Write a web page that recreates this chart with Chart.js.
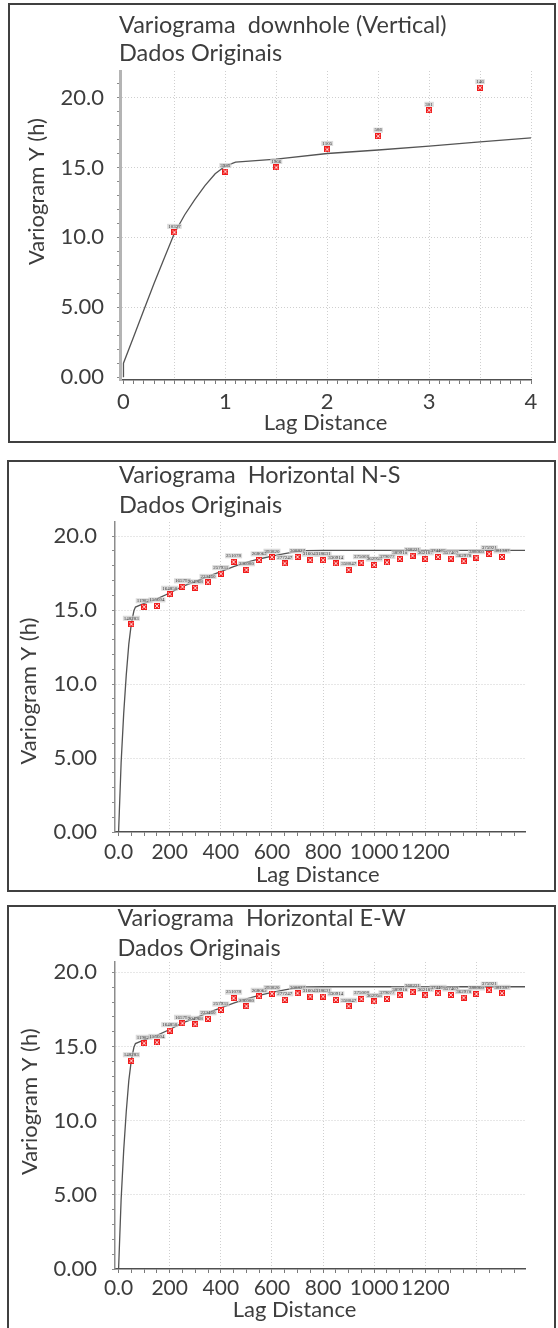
<!DOCTYPE html>
<html>
<head>
<meta charset="utf-8">
<script src="https://cdn.jsdelivr.net/npm/chart.js@4.4.1/dist/chart.umd.min.js"></script>
<style>
  html, body { margin: 0; padding: 0; background: #fff; overflow: hidden; }
  body { width: 558px; height: 1328px; position: relative; }
  .panel { position: absolute; border: 2px solid #404040; }
  .panel canvas { display: block; }
</style>
</head>
<body>
<div class="panel" style="left:8px;top:3px;width:544px;height:436px"><canvas id="vert" width="544" height="436"></canvas></div>
<div class="panel" style="left:7px;top:460px;width:545px;height:428px"><canvas id="ns" width="545" height="428"></canvas></div>
<div class="panel" style="left:7px;top:905px;width:545px;height:426px"><canvas id="ew" width="545" height="426"></canvas></div>
<script>
// ---- Downhole (vertical) experimental variogram ----
const vertLag   = [0.5, 1.0, 1.5, 2.0, 2.5, 3.0, 3.5];
const vertGamma = [10.36, 14.71, 15.00, 16.29, 17.24, 19.09, 20.71];
const vertPairs = ['10327', '3935', '1966', '1105', '586', '301', '146'];
// fitted model
const vertModelLag   = [0, 0, 0.1, 0.2, 0.3, 0.4, 0.5, 0.6, 0.7, 0.8, 0.9, 1.0, 1.1, 1.5, 2.0, 2.5, 3.0, 3.5, 4.0];
const vertModelGamma = [0, 1.0, 2.9, 4.8, 6.7, 8.5, 10.3, 11.6, 12.7, 13.7, 14.55, 15.1, 15.38, 15.6, 16.0, 16.25, 16.52, 16.83, 17.12];

// ---- Horizontal N-S experimental variogram ----
const nsLag   = [50, 100, 150, 200, 250, 300, 350, 400, 450, 500, 550, 600, 650, 700, 750,
                 800, 850, 900, 950, 1000, 1050, 1100, 1150, 1200, 1250, 1300, 1350, 1400, 1450, 1500];
const nsGamma = [14.04, 15.22, 15.28, 16.07, 16.57, 16.50, 16.87, 17.46, 18.26, 17.72, 18.39, 18.57, 18.15, 18.59, 18.37,
                 18.37, 18.15, 17.72, 18.20, 18.04, 18.22, 18.46, 18.67, 18.46, 18.59, 18.48, 18.30, 18.54, 18.80, 18.59];
const nsPairs = ['148283', '119821', '155604', '164850', '165798', '204968', '223460', '257931', '251078', '236080',
                 '268062', '293820', '277247', '308827', '316046', '318631', '330914', '358047', '375008', '362958',
                 '379077', '389918', '368221', '362187', '374406', '357462', '362978', '388060', '375921', '381387'];
const nsModelLag   = [0, 10, 20, 30, 40, 50, 60, 66, 100, 150, 200, 250, 300, 350, 400, 450, 500, 550, 600, 650, 700, 730, 800, 1000, 1200, 1400, 1590];
const nsModelGamma = [0, 4.7, 8.0, 10.6, 12.7, 14.1, 14.95, 15.2, 15.45, 15.75, 16.15, 16.6, 16.92, 17.28, 17.6, 17.93, 18.22, 18.45, 18.65, 18.82, 18.97, 19.02, 19.03, 19.03, 19.03, 19.03, 19.03];

// ---- Horizontal E-W experimental variogram ----
const ewLag   = [50, 100, 150, 200, 250, 300, 350, 400, 450, 500, 550, 600, 650, 700, 750,
                 800, 850, 900, 950, 1000, 1050, 1100, 1150, 1200, 1250, 1300, 1350, 1400, 1450, 1500];
const ewGamma = [14.04, 15.22, 15.28, 16.07, 16.57, 16.50, 16.87, 17.46, 18.26, 17.72, 18.39, 18.57, 18.15, 18.59, 18.37,
                 18.37, 18.15, 17.72, 18.20, 18.04, 18.22, 18.46, 18.67, 18.46, 18.59, 18.48, 18.30, 18.54, 18.80, 18.59];
const ewPairs = ['148283', '119821', '155604', '164850', '165798', '204968', '223460', '257931', '251078', '236080',
                 '268062', '293820', '277247', '308827', '316046', '318631', '330914', '358047', '375008', '362958',
                 '379077', '389918', '368221', '362187', '374406', '357462', '362978', '388060', '375921', '381387'];
const ewModelLag   = [0, 10, 20, 30, 40, 50, 60, 66, 100, 150, 200, 250, 300, 350, 400, 450, 500, 550, 600, 650, 700, 730, 800, 1000, 1200, 1400, 1590];
const ewModelGamma = [0, 4.7, 8.0, 10.6, 12.7, 14.1, 14.95, 15.2, 15.45, 15.75, 16.15, 16.6, 16.92, 17.28, 17.6, 17.93, 18.22, 18.45, 18.65, 18.82, 18.97, 19.02, 19.03, 19.03, 19.03, 19.03, 19.03];

// ---- axis ticks ----
const vertXLabels = [0, 1, 2, 3, 4];
const vertXGrid   = [0.5, 1, 1.5, 2, 2.5, 3, 3.5, 4];
const hzXLabels   = [0, 200, 400, 600, 800, 1000, 1200];
const hzXGrid     = [200, 400, 600, 800, 1000, 1200, 1400];
const yLabels     = [0, 5, 10, 15, 20];
const yGrid       = [5, 10, 15, 20];

const TEXT = '#3d3d3d';
const GRID = '#cfcfcf';
const FONT = 'Lato';

const has = (arr, v) => arr.some(a => Math.abs(a - v) < 1e-6);
const yFmt = v => v === 0 ? '0.00' : (v < 10 ? v.toFixed(2) : v.toFixed(1));
const pts = (xs, ys) => xs.map((x, i) => ({ x, y: ys[i] }));

// small red box with a light cross, used as the sample marker
function makeMarker() {
  const c = document.createElement('canvas');
  c.width = 6; c.height = 6;
  const g = c.getContext('2d');
  g.fillStyle = '#f01c1c';
  g.fillRect(0, 0, 6, 6);
  g.strokeStyle = '#ffd2d2';
  g.lineWidth = 1;
  g.beginPath();
  g.moveTo(1, 1); g.lineTo(5, 5);
  g.moveTo(5, 1); g.lineTo(1, 5);
  g.stroke();
  return c;
}

// free-positioned text: titles and axis captions
const panelText = {
  id: 'panelText',
  afterDraw(chart, args, opts) {
    const ctx = chart.ctx;
    (opts.items || []).forEach(it => {
      ctx.save();
      ctx.font = it.font;
      ctx.fillStyle = TEXT;
      ctx.textAlign = it.align || 'left';
      ctx.textBaseline = 'middle';
      ctx.translate(it.x, it.y);
      if (it.rotate) ctx.rotate(it.rotate);
      ctx.fillText(it.text, 0, 0);
      ctx.restore();
    });
  }
};

// number-of-pairs tag above each experimental point
const pairLabels = {
  id: 'pairLabels',
  afterDatasetsDraw(chart, args, opts) {
    if (!opts.labels) return;
    const ctx = chart.ctx;
    const meta = chart.getDatasetMeta(0);
    ctx.save();
    ctx.font = '5px "Liberation Serif"';
    ctx.textAlign = 'center';
    ctx.textBaseline = 'middle';
    meta.data.forEach((p, i) => {
      const t = opts.labels[i];
      const w = ctx.measureText(t).width;
      ctx.fillStyle = 'rgba(205,205,205,0.75)';
      ctx.fillRect(p.x - w / 2 - 1, p.y - 8.5, w + 2, 5);
      ctx.fillStyle = '#383838';
      ctx.fillText(t, p.x, p.y - 6);
    });
    ctx.restore();
  }
};

function makePanel(id, c) {
  const marker = makeMarker();
  return new Chart(document.getElementById(id), {
    type: 'scatter',
    data: {
      datasets: [
        {
          data: pts(c.lag, c.gamma),
          pointStyle: marker,
          pointRadius: 3,
          order: 0
        },
        {
          data: pts(c.modelLag, c.modelGamma),
          showLine: true,
          borderColor: '#545454',
          borderWidth: 1.3,
          pointRadius: 0,
          tension: 0,
          order: 1
        }
      ]
    },
    options: {
      responsive: false,
      animation: false,
      layout: { padding: { left: 0, top: c.padTop, right: c.padRight, bottom: 0 } },
      plugins: {
        legend: { display: false },
        tooltip: { enabled: false },
        pairLabels: { labels: c.pairs },
        panelText: { items: c.texts }
      },
      scales: {
        x: {
          type: 'linear',
          min: c.xMin, max: c.xMax,
          afterFit(s) { s.height = c.xH; s.paddingLeft = 0; s.paddingRight = 0; },
          ticks: {
            stepSize: c.xStep, includeBounds: false, autoSkip: false, maxRotation: 0, minRotation: 0,
            padding: c.xPad, color: TEXT, font: { family: FONT, size: c.xFont },
            callback: v => has(c.xLabels, v) ? c.xFmt(v) : ''
          },
          grid: {
            color: ctx => ctx.tick && has(c.xGrid, ctx.tick.value) ? GRID : 'transparent',
            lineWidth: 1, tickLength: 4, tickColor: '#7a7a7a', tickWidth: 1
          },
          border: { color: '#505050', width: 1.5, dash: [1, 2] }
        },
        y: {
          type: 'linear',
          min: c.yMin, max: c.yMax,
          afterFit(s) { s.width = c.yW; s.paddingTop = 0; s.paddingBottom = 0; },
          ticks: {
            stepSize: 1, includeBounds: false, autoSkip: false,
            padding: c.yPad, color: TEXT, font: { family: FONT, size: 22 },
            callback: v => has(yLabels, v) ? yFmt(v) : ''
          },
          grid: {
            color: ctx => ctx.tick && has(yGrid, ctx.tick.value) ? GRID : 'transparent',
            lineWidth: 1, tickLength: 3, tickColor: '#8a8a8a', tickWidth: 1
          },
          border: { color: c.yAxisColor, width: c.yAxisWidth, dash: [1, 2] }
        }
      }
    },
    plugins: [panelText, pairLabels]
  });
}

const T1 = `23.5px ${FONT}`;
const AX = `22px ${FONT}`;

function build() {
  makePanel('vert', {
    lag: vertLag, gamma: vertGamma, pairs: vertPairs,
    modelLag: vertModelLag, modelGamma: vertModelGamma,
    xMin: -0.034, xMax: 4, xStep: 0.1, xLabels: vertXLabels, xGrid: vertXGrid, xFmt: v => String(v),
    xFont: 22, xPad: 4.5, xH: 61,
    yMin: -0.2, yMax: 21.9, yW: 110, yPad: 13,
    yAxisColor: '#b4b4b4', yAxisWidth: 3,
    padTop: 66, padRight: 23,
    texts: [
      { text: 'Variograma  downhole (Vertical)', x: 109, y: 20, font: T1 },
      { text: 'Dados Originais', x: 109, y: 48, font: T1 },
      { text: 'Variogram Y (h)', x: 27, y: 186.5, font: AX, align: 'center', rotate: -Math.PI / 2 },
      { text: 'Lag Distance', x: 315.5, y: 417.7, font: AX, align: 'center' }
    ]
  });

  makePanel('ns', {
    lag: nsLag, gamma: nsGamma, pairs: nsPairs,
    modelLag: nsModelLag, modelGamma: nsModelGamma,
    xMin: -14, xMax: 1590, xStep: 50, xLabels: hzXLabels, xGrid: hzXGrid, xFmt: v => v === 0 ? '0.0' : String(v),
    xFont: 21, xPad: 3.5, xH: 58,
    yMin: 0, yMax: 20.95, yW: 106, yPad: 15,
    yAxisColor: '#8c8c8c', yAxisWidth: 1.5,
    padTop: 60, padRight: 29,
    texts: [
      { text: 'Variograma  Horizontal N-S', x: 110, y: 13, font: T1 },
      { text: 'Dados Originais', x: 110, y: 43, font: T1 },
      { text: 'Variogram Y (h)', x: 20, y: 229, font: AX, align: 'center', rotate: -Math.PI / 2 },
      { text: 'Lag Distance', x: 308.7, y: 413, font: AX, align: 'center' }
    ]
  });

  makePanel('ew', {
    lag: ewLag, gamma: ewGamma, pairs: ewPairs,
    modelLag: ewModelLag, modelGamma: ewModelGamma,
    xMin: -14, xMax: 1590, xStep: 50, xLabels: hzXLabels, xGrid: hzXGrid, xFmt: v => v === 0 ? '0.0' : String(v),
    xFont: 21, xPad: 3, xH: 64,
    yMin: 0, yMax: 20.7, yW: 106, yPad: 15,
    yAxisColor: '#8c8c8c', yAxisWidth: 1.5,
    padTop: 55, padRight: 29,
    texts: [
      { text: 'Variograma  Horizontal E-W', x: 108.4, y: 11.3, font: T1 },
      { text: 'Dados Originais', x: 108.4, y: 41.3, font: T1 },
      { text: 'Variogram Y (h)', x: 21.3, y: 194.7, font: AX, align: 'center', rotate: -Math.PI / 2 },
      { text: 'Lag Distance', x: 285.5, y: 403, font: AX, align: 'center' }
    ]
  });
}

Promise.all([
  document.fonts.load(`23px ${FONT}`),
  document.fonts.load('5px "Liberation Serif"')
]).catch(() => {}).then(build);
</script>
</body>
</html>
